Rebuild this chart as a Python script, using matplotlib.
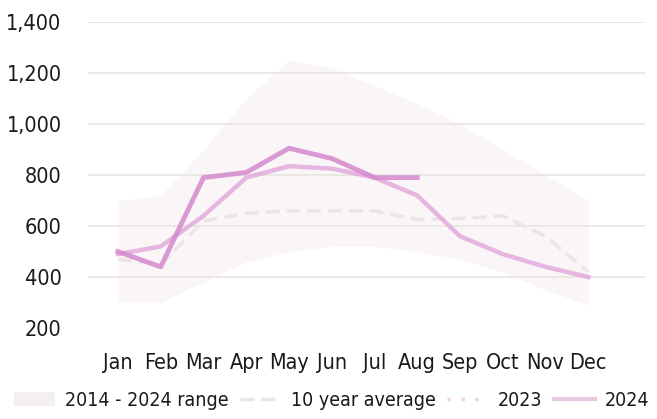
import matplotlib
matplotlib.use("Agg")
import matplotlib.pyplot as plt
from matplotlib.patches import Patch
from matplotlib.lines import Line2D

months = ["Jan", "Feb", "Mar", "Apr", "May", "Jun", "Jul", "Aug", "Sep", "Oct", "Nov", "Dec"]
month_pos = list(range(1, 13))

range_low = [300, 300, 380, 460, 500, 520, 520, 500, 470, 420, 350, 290]
range_high = [700, 720, 900, 1100, 1250, 1220, 1150, 1080, 1000, 900, 800, 700]
avg_10yr = [470, 450, 620, 650, 660, 660, 660, 625, 630, 640, 560, 420]
y2023 = [490, 520, 640, 790, 835, 825, 790, 720, 560, 490, 440, 400]
y2024 = [500, 440, 790, 810, 905, 865, 790, 790]

yticks = [200, 400, 600, 800, 1000, 1200, 1400]
ytick_labels = ["200", "400", "600", "800", "1,000", "1,200", "1,400"]

plt.rcParams["font.family"] = ["DejaVu Sans"]
plt.rcParams["font.stretch"] = "condensed"

fig = plt.figure(figsize=(6.57, 4.19), dpi=100)
ax = fig.add_axes([0.134, 0.217, 0.848, 0.7305])

c_range = "#faf6f8"
c_avg = "#ebe5e8"
c_2023 = "#e4abdc"
c_2024 = "#d689ce"

ax.fill_between(month_pos, range_low, range_high, color=c_range, lw=0, zorder=1)
ax.plot(month_pos, avg_10yr, color=c_avg, lw=2.5, ls=(0, (4, 2)), zorder=2)
ax.plot(month_pos, y2023, color=c_2023, lw=3.2, zorder=3, alpha=0.85)
ax.plot(month_pos[:len(y2024)], y2024, color=c_2024, lw=3.5, zorder=4, alpha=0.85)

ax.set_xlim(0.3, 13.33)
ax.set_ylim(200, 1400)
ax.set_yticks(yticks)
ax.set_yticklabels(ytick_labels)
ax.set_xticks(month_pos)
ax.set_xticklabels(months)
ax.tick_params(axis="both", length=0, labelsize=15.5, colors="#1a1a1a")
ax.tick_params(axis="x", pad=18)
ax.tick_params(axis="y", pad=19)

ax.yaxis.grid(True, color="#e9e5df", lw=1.2, zorder=0)
ax.yaxis.get_gridlines()[0].set_visible(False)
for s in ax.spines.values():
    s.set_visible(False)

handles = [
    Patch(facecolor="#f4f0f2", edgecolor="none"),
    Line2D([], [], color=c_avg, lw=2.5, ls=(0, (4, 2))),
    Line2D([], [], color="#eed2ea", lw=2.5, ls=(0, (1, 3))),
    Line2D([], [], color="#e5c9e0", lw=3),
]
labels = ["2014 - 2024 range", "10 year average", "2023", "2024"]
fig.legend(handles, labels, loc="center", bbox_to_anchor=(0.505, 1 - 400 / 419),
           ncol=4, frameon=False, fontsize=14, handlelength=2.1,
           handletextpad=0.5, columnspacing=0.6, labelcolor="#1a1a1a")

fig.savefig("out.png", dpi=100)
